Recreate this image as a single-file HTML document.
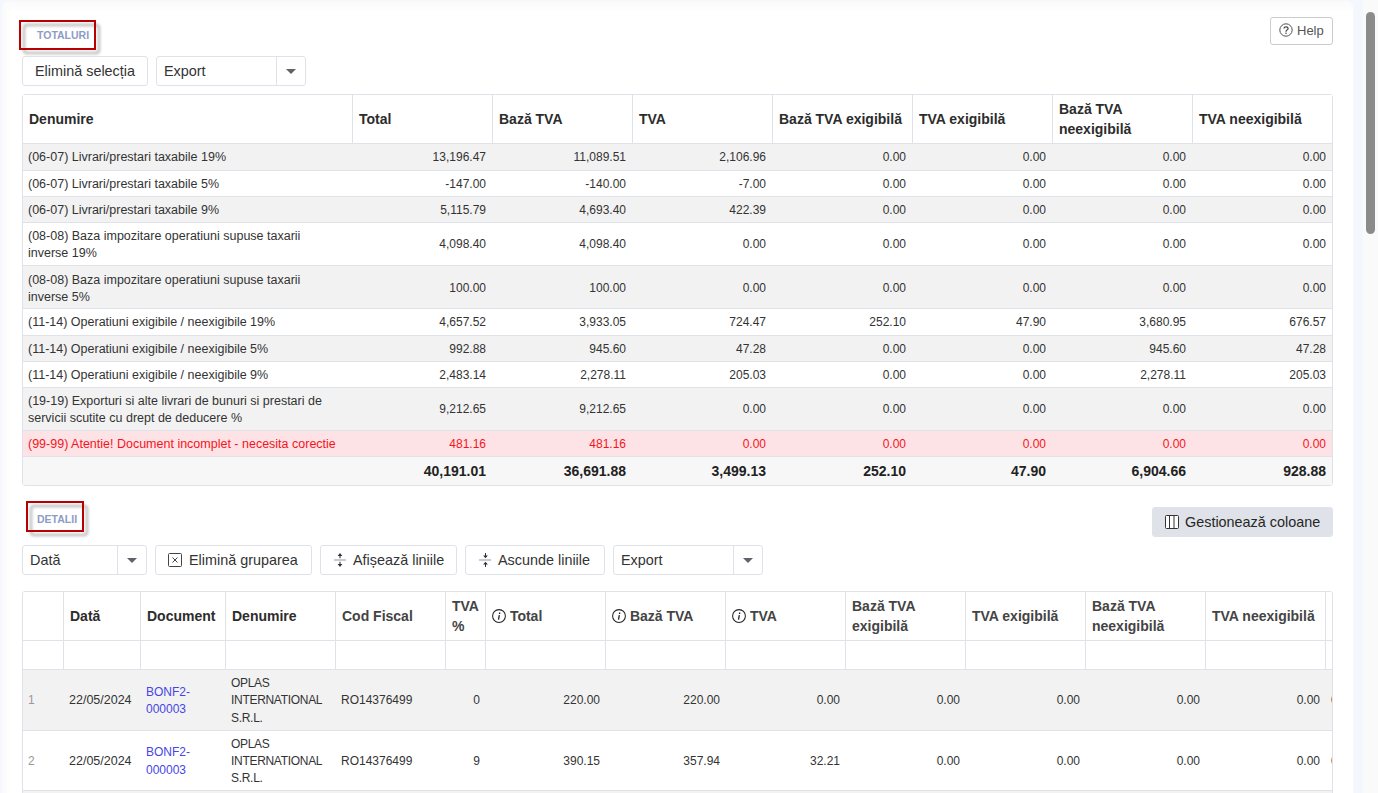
<!DOCTYPE html>
<html><head><meta charset="utf-8"><style>
*{box-sizing:border-box;margin:0;padding:0}
html,body{width:1378px;height:793px;overflow:hidden}
body{background:#f4f7fd;font-family:"Liberation Sans",sans-serif;color:#333;position:relative}
.card{position:absolute;left:2px;top:1px;width:1351px;height:900px;background:#fff;border-radius:8px;overflow:hidden}
.card:before{content:'';position:absolute;left:0;top:0;right:0;height:11px;background:linear-gradient(#fafafb,#fcfcfd 50%,rgba(255,255,255,0))}
.card:after{content:'';position:absolute;left:0;top:0;bottom:0;width:8px;background:linear-gradient(90deg,#fafafb,#fcfcfd 50%,rgba(255,255,255,0))}
.sbt{position:absolute;left:1363px;top:0;width:15px;height:793px;background:#fafafa}
.sbth{position:absolute;left:1366px;top:12px;width:9px;height:222px;background:#8b8b8b;border-radius:5px}
.tab{position:absolute;border:2px solid #b80000;color:#8e9cc6;font-size:10.5px;font-weight:bold;}
.tabsh{position:absolute;border:2.5px solid rgba(0,0,0,.32);border-radius:4px;filter:blur(1.6px)}
.tab span{position:absolute}
.btn{position:absolute;border:1px solid #dfe2e8;border-radius:3px;background:#fff;font-size:14.4px;color:#333;white-space:nowrap}
.btn span{position:absolute}
.sel .dv{position:absolute;top:0;bottom:0;width:1px;background:#dfe2e8}
.sel .ar{position:absolute;width:0;height:0;border-left:5px solid transparent;border-right:5px solid transparent;border-top:5px solid #5f6368}
.tw{position:absolute;border:1px solid #dfe2e8;box-sizing:content-box;border-radius:3px}
.tw2{position:absolute;border:1px solid #dfe2e8;box-sizing:content-box;overflow:hidden;border-radius:3px 3px 0 0}
.tw2 .in{position:absolute;left:0;top:0;width:1600px;height:400px}
.th{position:absolute;font-weight:bold;font-size:14px;color:#2c2c2c;display:flex;align-items:center;padding-left:6px;line-height:20px;background:#fff}
.tr{position:absolute;left:23px;width:1309px;border-bottom:1px solid #dfe2e8;box-sizing:content-box}
.tw2 .tr{left:0}
.tr.g{background:#f2f2f2}
.tr.w{background:#fff}
.tr.r{background:#fde3e5;color:#f5141e}
.tr.t{background:#f7f7f7;border-bottom:none}
.td{position:absolute;top:0;height:100%;display:flex;align-items:center;line-height:17.14px;white-space:nowrap}
.td span{position:relative;top:1px}
.tr.d1 .td span{top:2px}
.tw2 .td.tx{font-size:12px}
.tw2 .td.nm{padding-right:5px}
.tw2 .td.c1{font-size:12.5px}
.tw2 .td.c3{font-size:12px;letter-spacing:-0.3px}
.td.tx{padding-left:5px;font-size:12.5px}
.td.nm{justify-content:flex-end;padding-right:6px;font-size:12px}
.td.b{font-weight:bold;font-size:14px;color:#222}
.td.rn{color:#999}
.td.lk{color:#4646e6}
.td.c13{padding-left:5px}
.ii{vertical-align:-2px}
</style></head>
<body>
<div class="card"></div>
<div class="sbt"></div><div class="sbth"></div>

<div class="tabsh" style="left:23px;top:24px;width:77px;height:30px"></div><div class="tab" style="left:19px;top:20px;width:77px;height:30px"><span style="left:16px;top:7px">TOTALURI</span></div>

<div class="btn" style="left:1270px;top:17px;width:63px;height:28px;font-size:13px;color:#555;border-color:#ccc">
<svg style="position:absolute;left:8px;top:5px" width="14" height="14" viewBox="0 0 14 14"><circle cx="7" cy="7" r="6.2" fill="none" stroke="#555" stroke-width="1"/><path d="M5 5.4C5 3.5 9.1 3.5 9.1 5.4C9.1 6.9 7 6.9 7 8.7" fill="none" stroke="#444" stroke-width="1.25"/><circle cx="7" cy="10.2" r="0.8" fill="#444"/></svg>
<span style="left:26px;top:5px">Help</span></div>

<div class="btn" style="left:22px;top:56px;width:126px;height:30px"><span style="left:12px;top:6px">Elimină selecția</span></div>
<div class="btn sel" style="left:156px;top:56px;width:150px;height:30px"><span style="left:7px;top:6px">Export</span><div class="dv" style="left:119px"></div><div class="ar" style="left:129px;top:12px"></div></div>

<div class="tw" style="left:22px;top:94px;width:1309px;height:390px"></div>
<div class="th" style="left:23px;top:95px;width:330px;height:49px;border-right:1px solid #dfe2e8;border-bottom:1px solid #dfe2e8"><span>Denumire</span></div>
<div class="th" style="left:353px;top:95px;width:140px;height:49px;border-right:1px solid #dfe2e8;border-bottom:1px solid #dfe2e8"><span>Total</span></div>
<div class="th" style="left:493px;top:95px;width:140px;height:49px;border-right:1px solid #dfe2e8;border-bottom:1px solid #dfe2e8"><span>Bază TVA</span></div>
<div class="th" style="left:633px;top:95px;width:140px;height:49px;border-right:1px solid #dfe2e8;border-bottom:1px solid #dfe2e8"><span>TVA</span></div>
<div class="th" style="left:773px;top:95px;width:140px;height:49px;border-right:1px solid #dfe2e8;border-bottom:1px solid #dfe2e8"><span>Bază TVA exigibilă</span></div>
<div class="th" style="left:913px;top:95px;width:140px;height:49px;border-right:1px solid #dfe2e8;border-bottom:1px solid #dfe2e8"><span>TVA exigibilă</span></div>
<div class="th" style="left:1053px;top:95px;width:140px;height:49px;border-right:1px solid #dfe2e8;border-bottom:1px solid #dfe2e8"><span>Bază TVA<br>neexigibilă</span></div>
<div class="th" style="left:1193px;top:95px;width:139px;height:49px;border-bottom:1px solid #dfe2e8"><span>TVA neexigibilă</span></div>
<div class="tr g" style="top:144px;height:26px">
<div class="td tx" style="left:0;width:329px"><span>(06-07) Livrari/prestari taxabile 19%</span></div>
<div class="td nm" style="left:330px;width:139px"><span>13,196.47</span></div>
<div class="td nm" style="left:470px;width:139px"><span>11,089.51</span></div>
<div class="td nm" style="left:610px;width:139px"><span>2,106.96</span></div>
<div class="td nm" style="left:750px;width:139px"><span>0.00</span></div>
<div class="td nm" style="left:890px;width:139px"><span>0.00</span></div>
<div class="td nm" style="left:1030px;width:139px"><span>0.00</span></div>
<div class="td nm" style="left:1170px;width:139px"><span>0.00</span></div>
</div>
<div class="tr w" style="top:171px;height:25px">
<div class="td tx" style="left:0;width:329px"><span>(06-07) Livrari/prestari taxabile 5%</span></div>
<div class="td nm" style="left:330px;width:139px"><span>-147.00</span></div>
<div class="td nm" style="left:470px;width:139px"><span>-140.00</span></div>
<div class="td nm" style="left:610px;width:139px"><span>-7.00</span></div>
<div class="td nm" style="left:750px;width:139px"><span>0.00</span></div>
<div class="td nm" style="left:890px;width:139px"><span>0.00</span></div>
<div class="td nm" style="left:1030px;width:139px"><span>0.00</span></div>
<div class="td nm" style="left:1170px;width:139px"><span>0.00</span></div>
</div>
<div class="tr g" style="top:197px;height:25px">
<div class="td tx" style="left:0;width:329px"><span>(06-07) Livrari/prestari taxabile 9%</span></div>
<div class="td nm" style="left:330px;width:139px"><span>5,115.79</span></div>
<div class="td nm" style="left:470px;width:139px"><span>4,693.40</span></div>
<div class="td nm" style="left:610px;width:139px"><span>422.39</span></div>
<div class="td nm" style="left:750px;width:139px"><span>0.00</span></div>
<div class="td nm" style="left:890px;width:139px"><span>0.00</span></div>
<div class="td nm" style="left:1030px;width:139px"><span>0.00</span></div>
<div class="td nm" style="left:1170px;width:139px"><span>0.00</span></div>
</div>
<div class="tr w" style="top:223px;height:42px">
<div class="td tx" style="left:0;width:329px"><span>(08-08) Baza impozitare operatiuni supuse taxarii<br>inverse 19%</span></div>
<div class="td nm" style="left:330px;width:139px"><span>4,098.40</span></div>
<div class="td nm" style="left:470px;width:139px"><span>4,098.40</span></div>
<div class="td nm" style="left:610px;width:139px"><span>0.00</span></div>
<div class="td nm" style="left:750px;width:139px"><span>0.00</span></div>
<div class="td nm" style="left:890px;width:139px"><span>0.00</span></div>
<div class="td nm" style="left:1030px;width:139px"><span>0.00</span></div>
<div class="td nm" style="left:1170px;width:139px"><span>0.00</span></div>
</div>
<div class="tr g d1" style="top:266px;height:42px">
<div class="td tx" style="left:0;width:329px"><span>(08-08) Baza impozitare operatiuni supuse taxarii<br>inverse 5%</span></div>
<div class="td nm" style="left:330px;width:139px"><span>100.00</span></div>
<div class="td nm" style="left:470px;width:139px"><span>100.00</span></div>
<div class="td nm" style="left:610px;width:139px"><span>0.00</span></div>
<div class="td nm" style="left:750px;width:139px"><span>0.00</span></div>
<div class="td nm" style="left:890px;width:139px"><span>0.00</span></div>
<div class="td nm" style="left:1030px;width:139px"><span>0.00</span></div>
<div class="td nm" style="left:1170px;width:139px"><span>0.00</span></div>
</div>
<div class="tr w" style="top:309px;height:26px">
<div class="td tx" style="left:0;width:329px"><span>(11-14) Operatiuni exigibile / neexigibile 19%</span></div>
<div class="td nm" style="left:330px;width:139px"><span>4,657.52</span></div>
<div class="td nm" style="left:470px;width:139px"><span>3,933.05</span></div>
<div class="td nm" style="left:610px;width:139px"><span>724.47</span></div>
<div class="td nm" style="left:750px;width:139px"><span>252.10</span></div>
<div class="td nm" style="left:890px;width:139px"><span>47.90</span></div>
<div class="td nm" style="left:1030px;width:139px"><span>3,680.95</span></div>
<div class="td nm" style="left:1170px;width:139px"><span>676.57</span></div>
</div>
<div class="tr g" style="top:336px;height:25px">
<div class="td tx" style="left:0;width:329px"><span>(11-14) Operatiuni exigibile / neexigibile 5%</span></div>
<div class="td nm" style="left:330px;width:139px"><span>992.88</span></div>
<div class="td nm" style="left:470px;width:139px"><span>945.60</span></div>
<div class="td nm" style="left:610px;width:139px"><span>47.28</span></div>
<div class="td nm" style="left:750px;width:139px"><span>0.00</span></div>
<div class="td nm" style="left:890px;width:139px"><span>0.00</span></div>
<div class="td nm" style="left:1030px;width:139px"><span>945.60</span></div>
<div class="td nm" style="left:1170px;width:139px"><span>47.28</span></div>
</div>
<div class="tr w" style="top:362px;height:25px">
<div class="td tx" style="left:0;width:329px"><span>(11-14) Operatiuni exigibile / neexigibile 9%</span></div>
<div class="td nm" style="left:330px;width:139px"><span>2,483.14</span></div>
<div class="td nm" style="left:470px;width:139px"><span>2,278.11</span></div>
<div class="td nm" style="left:610px;width:139px"><span>205.03</span></div>
<div class="td nm" style="left:750px;width:139px"><span>0.00</span></div>
<div class="td nm" style="left:890px;width:139px"><span>0.00</span></div>
<div class="td nm" style="left:1030px;width:139px"><span>2,278.11</span></div>
<div class="td nm" style="left:1170px;width:139px"><span>205.03</span></div>
</div>
<div class="tr g" style="top:388px;height:42px">
<div class="td tx" style="left:0;width:329px"><span>(19-19) Exporturi si alte livrari de bunuri si prestari de<br>servicii scutite cu drept de deducere %</span></div>
<div class="td nm" style="left:330px;width:139px"><span>9,212.65</span></div>
<div class="td nm" style="left:470px;width:139px"><span>9,212.65</span></div>
<div class="td nm" style="left:610px;width:139px"><span>0.00</span></div>
<div class="td nm" style="left:750px;width:139px"><span>0.00</span></div>
<div class="td nm" style="left:890px;width:139px"><span>0.00</span></div>
<div class="td nm" style="left:1030px;width:139px"><span>0.00</span></div>
<div class="td nm" style="left:1170px;width:139px"><span>0.00</span></div>
</div>
<div class="tr r" style="top:431px;height:25px">
<div class="td tx" style="left:0;width:329px"><span>(99-99) Atentie! Document incomplet - necesita corectie</span></div>
<div class="td nm" style="left:330px;width:139px"><span>481.16</span></div>
<div class="td nm" style="left:470px;width:139px"><span>481.16</span></div>
<div class="td nm" style="left:610px;width:139px"><span>0.00</span></div>
<div class="td nm" style="left:750px;width:139px"><span>0.00</span></div>
<div class="td nm" style="left:890px;width:139px"><span>0.00</span></div>
<div class="td nm" style="left:1030px;width:139px"><span>0.00</span></div>
<div class="td nm" style="left:1170px;width:139px"><span>0.00</span></div>
</div>
<div class="tr t" style="top:457px;height:28px">
<div class="td nm b" style="left:330px;width:139px"><span>40,191.01</span></div>
<div class="td nm b" style="left:470px;width:139px"><span>36,691.88</span></div>
<div class="td nm b" style="left:610px;width:139px"><span>3,499.13</span></div>
<div class="td nm b" style="left:750px;width:139px"><span>252.10</span></div>
<div class="td nm b" style="left:890px;width:139px"><span>47.90</span></div>
<div class="td nm b" style="left:1030px;width:139px"><span>6,904.66</span></div>
<div class="td nm b" style="left:1170px;width:139px"><span>928.88</span></div>
</div>

<div class="tabsh" style="left:30px;top:505px;width:58px;height:31px"></div><div class="tab" style="left:26px;top:501px;width:58px;height:31px"><span style="left:9px;top:10px">DETALII</span></div>

<div class="btn" style="left:1152px;top:507px;width:181px;height:30px;background:#dfe2e8;border-color:#dfe2e8;color:#262626">
<svg style="position:absolute;left:12px;top:7px" width="15" height="15" viewBox="0 0 15 15"><rect x="0.5" y="0.5" width="13" height="13" rx="1" fill="#fff" stroke="#333"/><path d="M4.5 .5v13M9 .5v13" stroke="#333"/></svg>
<span style="left:32px;top:6px">Gestionează coloane</span></div>

<div class="btn sel" style="left:22px;top:545px;width:125px;height:30px"><span style="left:7px;top:6px">Dată</span><div class="dv" style="left:94px"></div><div class="ar" style="left:104px;top:12px"></div></div>
<div class="btn" style="left:155px;top:545px;width:157px;height:30px">
<svg style="position:absolute;left:12px;top:7px" width="15" height="15" viewBox="0 0 15 15"><rect x="0.5" y="0.5" width="13" height="13" rx="1" fill="none" stroke="#444"/><path d="M4.5 4.5l5 5M9.5 4.5l-5 5" stroke="#444"/></svg>
<span style="left:33px;top:6px">Elimină gruparea</span></div>
<div class="btn" style="left:320px;top:545px;width:137px;height:30px">
<svg style="position:absolute;left:12px;top:6px" width="15" height="16" viewBox="0 0 15 16"><path d="M1 8h12" stroke="#c2c0c6" stroke-width="1.7"/><path d="M7 3.5V6.2M7 9.8V12.5" stroke="#333" stroke-width="1.1"/><path d="M7 1L4.6 4H9.4ZM7 15L4.6 12H9.4Z" fill="#333"/></svg>
<span style="left:32px;top:6px">Afișează liniile</span></div>
<div class="btn" style="left:465px;top:545px;width:140px;height:30px">
<svg style="position:absolute;left:12px;top:6px" width="15" height="16" viewBox="0 0 15 16"><path d="M1 8h12" stroke="#c2c0c6" stroke-width="1.7"/><path d="M7.5 1V4M7.5 12V15" stroke="#333" stroke-width="1"/><path d="M7.5 6.2L5.1 3.4H9.9ZM7.5 9.8L5.1 12.6H9.9Z" fill="#333"/></svg>
<span style="left:32px;top:6px">Ascunde liniile</span></div>
<div class="btn sel" style="left:613px;top:545px;width:150px;height:30px"><span style="left:7px;top:6px">Export</span><div class="dv" style="left:119px"></div><div class="ar" style="left:129px;top:12px"></div></div>

<div class="tw2" style="left:22px;top:591px;width:1309px;height:400px"><div class="in">
<div class="th" style="left:0px;top:0;width:41px;height:49px;border-right:1px solid #dfe2e8;border-bottom:1px solid #dfe2e8"><span></span></div>
<div class="th" style="left:41px;top:0;width:77px;height:49px;border-right:1px solid #dfe2e8;border-bottom:1px solid #dfe2e8"><span>Dată</span></div>
<div class="th" style="left:118px;top:0;width:85px;height:49px;border-right:1px solid #dfe2e8;border-bottom:1px solid #dfe2e8"><span>Document</span></div>
<div class="th" style="left:203px;top:0;width:110px;height:49px;border-right:1px solid #dfe2e8;border-bottom:1px solid #dfe2e8"><span>Denumire</span></div>
<div class="th" style="color:#444;left:313px;top:0;width:110px;height:49px;border-right:1px solid #dfe2e8;border-bottom:1px solid #dfe2e8"><span>Cod Fiscal</span></div>
<div class="th" style="color:#444;left:423px;top:0;width:40px;height:49px;border-right:1px solid #dfe2e8;border-bottom:1px solid #dfe2e8"><span>TVA<br>%</span></div>
<div class="th" style="color:#444;left:463px;top:0;width:120px;height:49px;border-right:1px solid #dfe2e8;border-bottom:1px solid #dfe2e8"><span><svg class="ii" width="14" height="14" viewBox="0 0 14 14"><circle cx="7" cy="7" r="6.4" fill="none" stroke="#222" stroke-width="1.05"/><path d="M7.6 3.6v1.3" stroke="#222" stroke-width="1.4"/><path d="M7.3 6.2 L6.5 10.6" stroke="#222" stroke-width="1.3"/></svg> Total</span></div>
<div class="th" style="color:#444;left:583px;top:0;width:120px;height:49px;border-right:1px solid #dfe2e8;border-bottom:1px solid #dfe2e8"><span><svg class="ii" width="14" height="14" viewBox="0 0 14 14"><circle cx="7" cy="7" r="6.4" fill="none" stroke="#222" stroke-width="1.05"/><path d="M7.6 3.6v1.3" stroke="#222" stroke-width="1.4"/><path d="M7.3 6.2 L6.5 10.6" stroke="#222" stroke-width="1.3"/></svg> Bază TVA</span></div>
<div class="th" style="color:#444;left:703px;top:0;width:120px;height:49px;border-right:1px solid #dfe2e8;border-bottom:1px solid #dfe2e8"><span><svg class="ii" width="14" height="14" viewBox="0 0 14 14"><circle cx="7" cy="7" r="6.4" fill="none" stroke="#222" stroke-width="1.05"/><path d="M7.6 3.6v1.3" stroke="#222" stroke-width="1.4"/><path d="M7.3 6.2 L6.5 10.6" stroke="#222" stroke-width="1.3"/></svg> TVA</span></div>
<div class="th" style="color:#444;left:823px;top:0;width:120px;height:49px;border-right:1px solid #dfe2e8;border-bottom:1px solid #dfe2e8"><span>Bază TVA<br>exigibilă</span></div>
<div class="th" style="color:#444;left:943px;top:0;width:120px;height:49px;border-right:1px solid #dfe2e8;border-bottom:1px solid #dfe2e8"><span>TVA exigibilă</span></div>
<div class="th" style="color:#444;left:1063px;top:0;width:120px;height:49px;border-right:1px solid #dfe2e8;border-bottom:1px solid #dfe2e8"><span>Bază TVA<br>neexigibilă</span></div>
<div class="th" style="color:#444;left:1183px;top:0;width:120px;height:49px;border-right:1px solid #dfe2e8;border-bottom:1px solid #dfe2e8"><span>TVA neexigibilă</span></div>
<div class="th" style="color:#444;left:1303px;top:0;width:120px;height:49px;border-right:1px solid #dfe2e8;border-bottom:1px solid #dfe2e8"><span></span></div>
<div class="th" style="left:0px;top:49px;width:41px;height:29px;border-right:1px solid #dfe2e8;border-bottom:1px solid #dfe2e8"></div>
<div class="th" style="left:41px;top:49px;width:77px;height:29px;border-right:1px solid #dfe2e8;border-bottom:1px solid #dfe2e8"></div>
<div class="th" style="left:118px;top:49px;width:85px;height:29px;border-right:1px solid #dfe2e8;border-bottom:1px solid #dfe2e8"></div>
<div class="th" style="left:203px;top:49px;width:110px;height:29px;border-right:1px solid #dfe2e8;border-bottom:1px solid #dfe2e8"></div>
<div class="th" style="left:313px;top:49px;width:110px;height:29px;border-right:1px solid #dfe2e8;border-bottom:1px solid #dfe2e8"></div>
<div class="th" style="left:423px;top:49px;width:40px;height:29px;border-right:1px solid #dfe2e8;border-bottom:1px solid #dfe2e8"></div>
<div class="th" style="left:463px;top:49px;width:120px;height:29px;border-right:1px solid #dfe2e8;border-bottom:1px solid #dfe2e8"></div>
<div class="th" style="left:583px;top:49px;width:120px;height:29px;border-right:1px solid #dfe2e8;border-bottom:1px solid #dfe2e8"></div>
<div class="th" style="left:703px;top:49px;width:120px;height:29px;border-right:1px solid #dfe2e8;border-bottom:1px solid #dfe2e8"></div>
<div class="th" style="left:823px;top:49px;width:120px;height:29px;border-right:1px solid #dfe2e8;border-bottom:1px solid #dfe2e8"></div>
<div class="th" style="left:943px;top:49px;width:120px;height:29px;border-right:1px solid #dfe2e8;border-bottom:1px solid #dfe2e8"></div>
<div class="th" style="left:1063px;top:49px;width:120px;height:29px;border-right:1px solid #dfe2e8;border-bottom:1px solid #dfe2e8"></div>
<div class="th" style="left:1183px;top:49px;width:120px;height:29px;border-right:1px solid #dfe2e8;border-bottom:1px solid #dfe2e8"></div>
<div class="th" style="left:1303px;top:49px;width:120px;height:29px;border-right:1px solid #dfe2e8;border-bottom:1px solid #dfe2e8"></div>
<div class="tr g" style="top:78px;height:60px;width:1500px">
<div class="td tx rn" style="left:0px;width:40px"><span>1</span></div>
<div class="td tx c1" style="left:41px;width:76px"><span>22/05/2024</span></div>
<div class="td tx lk" style="left:118px;width:84px"><span>BONF2-<br>000003</span></div>
<div class="td tx c3" style="left:203px;width:109px"><span>OPLAS<br>INTERNATIONAL<br>S.R.L.</span></div>
<div class="td tx" style="left:313px;width:109px"><span>RO14376499</span></div>
<div class="td nm" style="left:423px;width:39px"><span>0</span></div>
<div class="td nm" style="left:463px;width:119px"><span>220.00</span></div>
<div class="td nm" style="left:583px;width:119px"><span>220.00</span></div>
<div class="td nm" style="left:703px;width:119px"><span>0.00</span></div>
<div class="td nm" style="left:823px;width:119px"><span>0.00</span></div>
<div class="td nm" style="left:943px;width:119px"><span>0.00</span></div>
<div class="td nm" style="left:1063px;width:119px"><span>0.00</span></div>
<div class="td nm" style="left:1183px;width:119px"><span>0.00</span></div>
<div class="td tx c13" style="left:1303px;width:119px"><span>0.00</span></div>
</div>
<div class="tr w" style="top:139px;height:59px;width:1500px">
<div class="td tx rn" style="left:0px;width:40px"><span>2</span></div>
<div class="td tx c1" style="left:41px;width:76px"><span>22/05/2024</span></div>
<div class="td tx lk" style="left:118px;width:84px"><span>BONF2-<br>000003</span></div>
<div class="td tx c3" style="left:203px;width:109px"><span>OPLAS<br>INTERNATIONAL<br>S.R.L.</span></div>
<div class="td tx" style="left:313px;width:109px"><span>RO14376499</span></div>
<div class="td nm" style="left:423px;width:39px"><span>9</span></div>
<div class="td nm" style="left:463px;width:119px"><span>390.15</span></div>
<div class="td nm" style="left:583px;width:119px"><span>357.94</span></div>
<div class="td nm" style="left:703px;width:119px"><span>32.21</span></div>
<div class="td nm" style="left:823px;width:119px"><span>0.00</span></div>
<div class="td nm" style="left:943px;width:119px"><span>0.00</span></div>
<div class="td nm" style="left:1063px;width:119px"><span>0.00</span></div>
<div class="td nm" style="left:1183px;width:119px"><span>0.00</span></div>
<div class="td tx c13" style="left:1303px;width:119px"><span>0.00</span></div>
</div>
<div class="tr g" style="top:199px;height:59px;width:1500px">
<div class="td tx rn" style="left:0px;width:40px"><span>3</span></div>
<div class="td tx c1" style="left:41px;width:76px"><span>22/05/2024</span></div>
<div class="td tx lk" style="left:118px;width:84px"><span>BONF2-<br>000003</span></div>
<div class="td tx c3" style="left:203px;width:109px"><span>OPLAS<br>INTERNATIONAL<br>S.R.L.</span></div>
<div class="td tx" style="left:313px;width:109px"><span>RO14376499</span></div>
<div class="td nm" style="left:423px;width:39px"><span>9</span></div>
<div class="td nm" style="left:463px;width:119px"><span>390.15</span></div>
<div class="td nm" style="left:583px;width:119px"><span>357.94</span></div>
<div class="td nm" style="left:703px;width:119px"><span>32.21</span></div>
<div class="td nm" style="left:823px;width:119px"><span>0.00</span></div>
<div class="td nm" style="left:943px;width:119px"><span>0.00</span></div>
<div class="td nm" style="left:1063px;width:119px"><span>0.00</span></div>
<div class="td nm" style="left:1183px;width:119px"><span>0.00</span></div>
<div class="td tx c13" style="left:1303px;width:119px"><span>0.00</span></div>
</div>
</div></div>

</body></html>
